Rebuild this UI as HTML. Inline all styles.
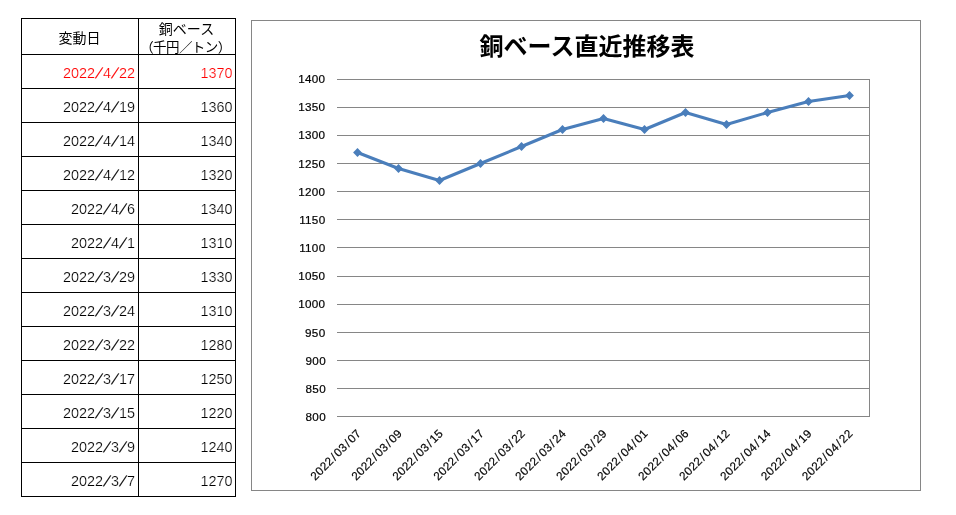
<!DOCTYPE html>
<html lang="ja"><head><meta charset="utf-8"><title>銅ベース直近推移表</title>
<style>
html,body{margin:0;padding:0;background:#fff;}
body{width:956px;height:515px;position:relative;overflow:hidden;font-family:"Liberation Sans",sans-serif;}
table{will-change:transform;position:absolute;left:21px;top:18px;border-collapse:collapse;table-layout:fixed;width:215px;}
td,th{border:1px solid #000;padding:0;box-sizing:border-box;}
th{height:36px;}
td{height:34px;font-size:14.4px;line-height:16px;text-align:right;color:#000;padding-top:3px;white-space:nowrap;-webkit-text-stroke:0.2px #fff;}
td.c1{padding-right:3px;} td.c2{padding-right:2.5px;}
tr.red td{color:#f00;}
.sl{display:inline-block;width:8px;text-align:center;transform:skewX(-22deg);-webkit-text-stroke:0.15px currentColor;}
.vh{position:absolute;left:0;top:0;width:1px;height:1px;overflow:hidden;opacity:0;font-size:1px;color:transparent;}
svg{position:absolute;left:0;top:0;}
.g line{stroke:#868686;stroke-width:1;shape-rendering:crispEdges;}
.yl text,.xl text{font-family:"Liberation Sans",sans-serif;font-size:11.7px;fill:#000;letter-spacing:0.26px;stroke:#000;stroke-width:0.2px;}
.hd text{font-family:"Liberation Sans","Noto Sans CJK JP",sans-serif;fill:#000;}
.ttl{font-family:"Liberation Sans","Noto Sans CJK JP",sans-serif;font-weight:bold;font-size:24px;fill:#000;}
</style></head><body>
<table>
<colgroup><col style="width:117px"><col style="width:97px"></colgroup>
<tr><th><span class="vh">変動日</span></th><th><span class="vh">銅ベース<br>（千円／トン）</span></th></tr>
<tr class="red"><td class="c1">2022<span class="sl">/</span>4<span class="sl">/</span>22</td><td class="c2">1370</td></tr>
<tr><td class="c1">2022<span class="sl">/</span>4<span class="sl">/</span>19</td><td class="c2">1360</td></tr>
<tr><td class="c1">2022<span class="sl">/</span>4<span class="sl">/</span>14</td><td class="c2">1340</td></tr>
<tr><td class="c1">2022<span class="sl">/</span>4<span class="sl">/</span>12</td><td class="c2">1320</td></tr>
<tr><td class="c1">2022<span class="sl">/</span>4<span class="sl">/</span>6</td><td class="c2">1340</td></tr>
<tr><td class="c1">2022<span class="sl">/</span>4<span class="sl">/</span>1</td><td class="c2">1310</td></tr>
<tr><td class="c1">2022<span class="sl">/</span>3<span class="sl">/</span>29</td><td class="c2">1330</td></tr>
<tr><td class="c1">2022<span class="sl">/</span>3<span class="sl">/</span>24</td><td class="c2">1310</td></tr>
<tr><td class="c1">2022<span class="sl">/</span>3<span class="sl">/</span>22</td><td class="c2">1280</td></tr>
<tr><td class="c1">2022<span class="sl">/</span>3<span class="sl">/</span>17</td><td class="c2">1250</td></tr>
<tr><td class="c1">2022<span class="sl">/</span>3<span class="sl">/</span>15</td><td class="c2">1220</td></tr>
<tr><td class="c1">2022<span class="sl">/</span>3<span class="sl">/</span>9</td><td class="c2">1240</td></tr>
<tr><td class="c1">2022<span class="sl">/</span>3<span class="sl">/</span>7</td><td class="c2">1270</td></tr>
</table>
<svg width="956" height="515" viewBox="0 0 956 515" role="img" aria-label="銅ベース直近推移表">
<title>銅ベース直近推移表</title>
<g class="hd"><text x="79.6" y="43" font-size="14" text-anchor="middle">変動日</text><text x="186.5" y="34" font-size="14" text-anchor="middle">銅ベース</text><text x="185.7" y="51.6" font-size="13.5" text-anchor="middle" textLength="91" lengthAdjust="spacing">（千円／トン）</text></g>
<rect x="251.5" y="20.5" width="669" height="470" fill="none" stroke="#868686" shape-rendering="crispEdges"/>
<text class="ttl" x="587" y="55" text-anchor="middle">銅ベース直近推移表</text>
<g class="g"><line x1="337" y1="79.5" x2="870" y2="79.5"/><line x1="337" y1="107.5" x2="870" y2="107.5"/><line x1="337" y1="135.5" x2="870" y2="135.5"/><line x1="337" y1="163.5" x2="870" y2="163.5"/><line x1="337" y1="191.5" x2="870" y2="191.5"/><line x1="337" y1="219.5" x2="870" y2="219.5"/><line x1="337" y1="247.5" x2="870" y2="247.5"/><line x1="337" y1="276.5" x2="870" y2="276.5"/><line x1="337" y1="304.5" x2="870" y2="304.5"/><line x1="337" y1="332.5" x2="870" y2="332.5"/><line x1="337" y1="360.5" x2="870" y2="360.5"/><line x1="337" y1="388.5" x2="870" y2="388.5"/><line x1="337" y1="416.5" x2="870" y2="416.5"/><line x1="869.5" y1="79" x2="869.5" y2="417"/></g>
<g class="yl"><text x="325.4" y="83.0" text-anchor="end">1400</text><text x="325.4" y="111.2" text-anchor="end">1350</text><text x="325.4" y="139.3" text-anchor="end">1300</text><text x="325.4" y="167.5" text-anchor="end">1250</text><text x="325.4" y="195.7" text-anchor="end">1200</text><text x="325.4" y="223.9" text-anchor="end">1150</text><text x="325.4" y="252.0" text-anchor="end">1100</text><text x="325.4" y="280.2" text-anchor="end">1050</text><text x="325.4" y="308.4" text-anchor="end">1000</text><text x="325.4" y="336.5" text-anchor="end">950</text><text x="325.9" y="364.7" text-anchor="end">900</text><text x="325.9" y="392.9" text-anchor="end">850</text><text x="325.9" y="421.0" text-anchor="end">800</text></g>
<polyline points="357.50,152.50 398.50,168.50 439.50,180.50 480.50,163.50 521.50,146.50 562.50,129.50 603.50,118.50 644.50,129.50 685.50,112.50 726.50,124.50 767.50,112.50 808.50,101.50 849.50,95.50" fill="none" stroke="#4a7ebb" stroke-width="3" stroke-linejoin="round" stroke-linecap="round"/>
<g fill="#4a7ebb"><path d="M357.50 148.10L361.90 152.50L357.50 156.90L353.10 152.50Z"/><path d="M398.50 164.10L402.90 168.50L398.50 172.90L394.10 168.50Z"/><path d="M439.50 176.10L443.90 180.50L439.50 184.90L435.10 180.50Z"/><path d="M480.50 159.10L484.90 163.50L480.50 167.90L476.10 163.50Z"/><path d="M521.50 142.10L525.90 146.50L521.50 150.90L517.10 146.50Z"/><path d="M562.50 125.10L566.90 129.50L562.50 133.90L558.10 129.50Z"/><path d="M603.50 114.10L607.90 118.50L603.50 122.90L599.10 118.50Z"/><path d="M644.50 125.10L648.90 129.50L644.50 133.90L640.10 129.50Z"/><path d="M685.50 108.10L689.90 112.50L685.50 116.90L681.10 112.50Z"/><path d="M726.50 120.10L730.90 124.50L726.50 128.90L722.10 124.50Z"/><path d="M767.50 108.10L771.90 112.50L767.50 116.90L763.10 112.50Z"/><path d="M808.50 97.10L812.90 101.50L808.50 105.90L804.10 101.50Z"/><path d="M849.50 91.10L853.90 95.50L849.50 99.90L845.10 95.50Z"/></g>
<g class="xl" style="will-change:transform"><text transform="translate(361.88 434.3) rotate(-45)" text-anchor="end">2022<tspan dx="1.2">/</tspan><tspan dx="1.2">03</tspan><tspan dx="1.2">/</tspan><tspan dx="1.2">07</tspan></text><text transform="translate(402.84 434.3) rotate(-45)" text-anchor="end">2022<tspan dx="1.2">/</tspan><tspan dx="1.2">03</tspan><tspan dx="1.2">/</tspan><tspan dx="1.2">09</tspan></text><text transform="translate(443.80 434.3) rotate(-45)" text-anchor="end">2022<tspan dx="1.2">/</tspan><tspan dx="1.2">03</tspan><tspan dx="1.2">/</tspan><tspan dx="1.2">15</tspan></text><text transform="translate(484.77 434.3) rotate(-45)" text-anchor="end">2022<tspan dx="1.2">/</tspan><tspan dx="1.2">03</tspan><tspan dx="1.2">/</tspan><tspan dx="1.2">17</tspan></text><text transform="translate(525.73 434.3) rotate(-45)" text-anchor="end">2022<tspan dx="1.2">/</tspan><tspan dx="1.2">03</tspan><tspan dx="1.2">/</tspan><tspan dx="1.2">22</tspan></text><text transform="translate(566.69 434.3) rotate(-45)" text-anchor="end">2022<tspan dx="1.2">/</tspan><tspan dx="1.2">03</tspan><tspan dx="1.2">/</tspan><tspan dx="1.2">24</tspan></text><text transform="translate(607.65 434.3) rotate(-45)" text-anchor="end">2022<tspan dx="1.2">/</tspan><tspan dx="1.2">03</tspan><tspan dx="1.2">/</tspan><tspan dx="1.2">29</tspan></text><text transform="translate(648.61 434.3) rotate(-45)" text-anchor="end">2022<tspan dx="1.2">/</tspan><tspan dx="1.2">04</tspan><tspan dx="1.2">/</tspan><tspan dx="1.2">01</tspan></text><text transform="translate(689.57 434.3) rotate(-45)" text-anchor="end">2022<tspan dx="1.2">/</tspan><tspan dx="1.2">04</tspan><tspan dx="1.2">/</tspan><tspan dx="1.2">06</tspan></text><text transform="translate(730.53 434.3) rotate(-45)" text-anchor="end">2022<tspan dx="1.2">/</tspan><tspan dx="1.2">04</tspan><tspan dx="1.2">/</tspan><tspan dx="1.2">12</tspan></text><text transform="translate(771.50 434.3) rotate(-45)" text-anchor="end">2022<tspan dx="1.2">/</tspan><tspan dx="1.2">04</tspan><tspan dx="1.2">/</tspan><tspan dx="1.2">14</tspan></text><text transform="translate(812.46 434.3) rotate(-45)" text-anchor="end">2022<tspan dx="1.2">/</tspan><tspan dx="1.2">04</tspan><tspan dx="1.2">/</tspan><tspan dx="1.2">19</tspan></text><text transform="translate(853.42 434.3) rotate(-45)" text-anchor="end">2022<tspan dx="1.2">/</tspan><tspan dx="1.2">04</tspan><tspan dx="1.2">/</tspan><tspan dx="1.2">22</tspan></text></g>
</svg>
</body></html>
